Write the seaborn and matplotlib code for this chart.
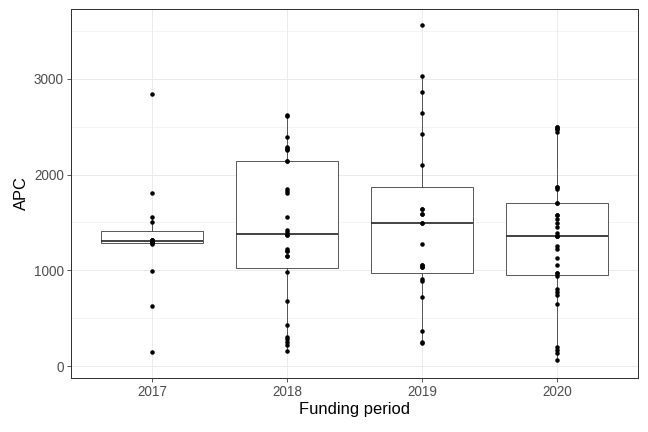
import matplotlib
matplotlib.use("Agg")
import matplotlib.pyplot as plt
from matplotlib.ticker import MultipleLocator
import seaborn as sns
import pandas as pd

periods = ["2017", "2018", "2019", "2020"]

apc_2017 = [150, 630, 989, 1280, 1290, 1295, 1300, 1309, 1315, 1320, 1320,
            1505, 1557, 1805, 2839]
apc_2018 = [160, 215, 250, 279, 306, 428, 679, 982,
            1150, 1150, 1205, 1205, 1223, 1369, 1369,
            1397, 1421, 1560, 1805, 1829, 1846, 2142, 2142,
            2257, 2265, 2275, 2292, 2390, 2610, 2627]
apc_2019 = [240, 254, 362, 717, 892, 906,
            1038, 1038, 1052, 1052, 1275, 1498,
            1498, 1592, 1592, 1644, 1644,
            2097, 2427, 2640, 2860, 3027, 3560]
apc_2020 = [59, 139, 167, 195, 651, 742, 773, 801, 940,
            968, 968, 1055, 1132, 1226, 1254, 1358, 1358, 1358,
            1386, 1456, 1498, 1533, 1578, 1578, 1707, 1707,
            1850, 1874, 1874, 2450, 2480, 2480, 2500, 2500]

values = [apc_2017, apc_2018, apc_2019, apc_2020]
df = pd.DataFrame({
    "period": [p for p, v in zip(periods, values) for _ in v],
    "APC": [x for v in values for x in v],
})

sns.set_theme(style="white")
plt.rcParams["font.family"] = ["Liberation Sans", "DejaVu Sans"]

fig = plt.figure(figsize=(9, 6), dpi=72)
ax = fig.add_axes([71/648, 1-378/432, (638-71)/648, (378-9)/432])

sns.boxplot(data=df, x="period", y="APC", order=periods, color="white",
            linecolor="#333333", linewidth=0.8, width=0.75, showfliers=False,
            showcaps=False, whis=1.5,
            medianprops={"linewidth": 1.8, "color": "#333333"},
            ax=ax, zorder=2)
sns.stripplot(data=df, x="period", y="APC", order=periods, jitter=False,
              color="black", size=4.5, linewidth=0, ax=ax, zorder=3)

ax.set_xlim(-0.6, 3.6)
ax.set_ylim(-125, 3730)
ax.yaxis.set_major_locator(MultipleLocator(1000))
ax.yaxis.set_minor_locator(MultipleLocator(500))
ax.grid(which="major", color="#EBEBEB", linewidth=1.0, zorder=0)
ax.grid(which="minor", axis="y", color="#EBEBEB", linewidth=0.5, zorder=0)
ax.set_axisbelow(True)

for s in ax.spines.values():
    s.set_color("#333333")
    s.set_linewidth(1.0)

ax.tick_params(axis="both", which="major", length=4, width=0.8,
               color="#333333", labelcolor="#4D4D4D", labelsize=13.5, pad=3,
               left=True, bottom=True)
ax.tick_params(axis="y", which="minor", length=0)
ax.set_xlabel("Funding period", fontsize=16.5, color="black", labelpad=3)
ax.set_ylabel("APC", fontsize=16.5, color="black", labelpad=5)

fig.savefig("out.png", dpi=72)
